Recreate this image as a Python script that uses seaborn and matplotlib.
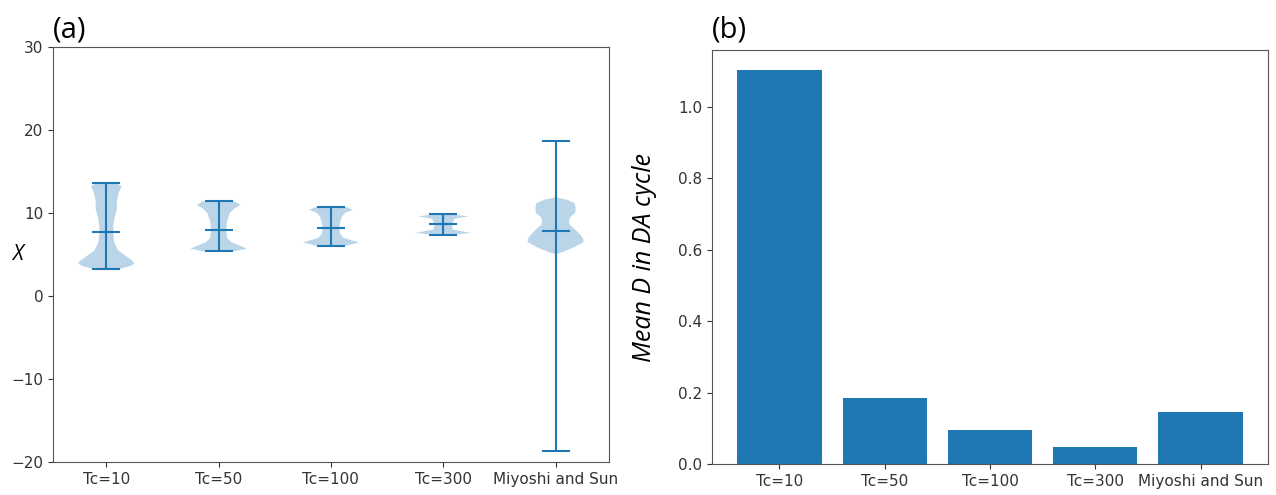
import numpy as np
import pandas as pd
import seaborn as sns
import matplotlib
matplotlib.use('Agg')
import matplotlib.pyplot as plt

# categories on both panels
labels = ['Tc=10', 'Tc=50', 'Tc=100', 'Tc=300', 'Miyoshi and Sun']

# (a) violin shapes: X values and relative density
x_tc10 = [3.25, 3.6, 3.9, 4.2, 4.8, 5.5, 6.5, 7.5, 8.5, 9.5, 10.5, 11.5, 12.5, 13.2, 13.6]
d_tc10 = [0.45, 0.85, 1.0, 0.95, 0.7, 0.42, 0.28, 0.25, 0.25, 0.3, 0.38, 0.38, 0.45, 0.55, 0.35]
x_tc50 = [5.4, 5.7, 6.0, 6.5, 7.0, 8.0, 9.0, 10.0, 10.5, 11.0, 11.4]
d_tc50 = [0.6, 1.0, 0.8, 0.45, 0.3, 0.27, 0.3, 0.4, 0.55, 0.78, 0.55]
x_tc100 = [6.07, 6.45, 6.7, 7.0, 7.5, 8.5, 9.5, 10.0, 10.4, 10.76]
d_tc100 = [0.55, 1.0, 0.75, 0.45, 0.32, 0.3, 0.38, 0.5, 0.78, 0.5]
x_tc300 = [7.35, 7.6, 8.0, 8.6, 9.3, 9.6, 9.84]
d_tc300 = [0.3, 1.0, 0.35, 0.3, 0.4, 0.9, 0.3]
x_ms = [-18.7, 4.8, 5.05, 5.3, 5.9, 6.5, 7.0, 7.5, 8.0, 8.6, 9.2, 9.6,
        10.0, 10.6, 11.2, 11.6, 11.85, 12.2, 18.7]
d_ms = [0.0, 0.0, 0.02, 0.25, 0.68, 1.0, 0.97, 0.85, 0.7, 0.5, 0.48, 0.55,
        0.7, 0.72, 0.68, 0.4, 0.05, 0.0, 0.0]

x_min = [3.25, 5.4, 6.07, 7.35, -18.7]
x_max = [13.6, 11.4, 10.76, 9.84, 18.7]
x_median = [7.7, 8.0, 8.15, 8.64, 7.83]

# (b) mean D in DA cycle
mean_d = [1.105, 0.185, 0.095, 0.048, 0.145]


def plot_violin(ax):
    shapes = [(x_tc10, d_tc10), (x_tc50, d_tc50), (x_tc100, d_tc100),
              (x_tc300, d_tc300), (x_ms, d_ms)]
    stats = []
    for i, (xs, ds) in enumerate(shapes):
        stats.append({'coords': np.array(xs), 'vals': np.array(ds),
                      'mean': x_median[i], 'median': x_median[i],
                      'min': x_min[i], 'max': x_max[i]})
    ax.violin(stats, positions=range(1, 6), showmedians=True)
    ax.set_xticks(range(1, 6))
    ax.set_xticklabels(labels)
    ax.set_xlim(0.525, 5.475)
    ax.set_ylim(-20, 30)
    ax.set_ylabel('X', family=['Open Sans', 'DejaVu Sans'], style='italic',
                  fontsize=15, rotation=0, va='center', ha='center')
    ax.yaxis.set_label_coords(-0.063, 0.5)
    ax.text(0.0, 1.024, '(a)', transform=ax.transAxes, fontsize=21,
            family=['Open Sans', 'DejaVu Sans'], ha='left', va='baseline')


def plot_bar(ax):
    df = pd.DataFrame({'case': labels, 'D': mean_d})
    sns.barplot(x='case', y='D', data=df, color='#1f77b4', saturation=1,
                width=0.8, ax=ax)
    ax.set_xlim(-0.64, 4.64)
    ax.set_ylim(0, 1.16)
    ax.set_xlabel('')
    ax.set_ylabel('Mean D in DA cycle', family=['Open Sans', 'DejaVu Sans'],
                  style='italic', fontsize=18)
    ax.yaxis.set_label_coords(-0.099, 0.5)
    ax.text(0.0, 1.03, '(b)', transform=ax.transAxes, fontsize=21,
            family=['Open Sans', 'DejaVu Sans'], ha='left', va='baseline')


def main():
    plt.rcParams['font.size'] = 11
    plt.rcParams['font.family'] = ['DejaVu Sans']
    fig = plt.figure(figsize=(12.76, 4.95), dpi=100)
    ax1 = fig.add_axes([0.0415, 0.0667, 0.4357, 0.8384])
    ax2 = fig.add_axes([0.558, 0.0626, 0.4357, 0.8364])
    plot_violin(ax1)
    plot_bar(ax2)
    for ax in (ax1, ax2):
        for s in ax.spines.values():
            s.set_color('#555555')
        ax.tick_params(colors='#333333')
    fig.savefig('out.png', dpi=100)


if __name__ == '__main__':
    main()
